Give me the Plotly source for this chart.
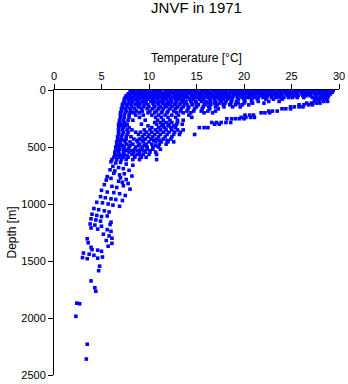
import plotly.graph_objects as go

# ---- data: temperature [°C] at depth [m] ----
# rows of near-constant depth (standard sampling depths)
t_at_3 = [8.1, 8.4, 8.9, 9.3, 9.6, 10.0, 10.5, 10.8, 11.2, 11.7, 12.0, 12.3, 12.8, 13.2, 13.5, 13.9, 14.4, 14.7,
          15.0, 15.5, 15.8, 16.2, 16.7, 17.0, 17.4, 17.8, 18.1, 18.6, 19.0, 19.3, 19.7, 20.1, 20.4, 20.9, 21.3,
          21.6, 22.0, 22.4, 22.8, 23.1, 23.6, 23.9, 24.3, 24.7, 25.0, 25.4, 25.8, 26.2, 26.5, 26.9, 27.3, 27.7,
          28.0, 28.4, 28.8, 29.1, 29.4]
t_at_18 = [8.0, 8.3, 8.7, 9.1, 9.5, 9.8, 10.2, 10.6, 11.0, 11.3, 11.8, 12.1, 12.5, 12.9, 13.3, 13.6, 14.0, 14.3,
           14.9, 15.3, 15.7, 16.0, 16.4, 16.9, 17.2, 17.6, 18.0, 18.3, 18.8, 19.2, 19.5, 19.9, 20.3, 20.7, 21.1,
           21.4, 21.8, 22.2, 22.6, 23.0, 23.3, 23.8, 24.1, 24.5, 24.9, 25.3, 25.6, 26.0, 26.4, 26.8, 27.1, 27.5,
           27.9, 28.2, 28.6, 29.0, 29.3]
t_at_34 = [7.8, 8.2, 8.6, 9.0, 9.4, 9.7, 10.1, 10.4, 10.9, 11.4, 11.7, 12.2, 12.6, 13.0, 13.4, 13.7, 14.2, 14.6,
           15.1, 15.4, 15.9, 16.3, 16.6, 17.1, 17.5, 17.9, 18.2, 18.5, 19.0, 19.4, 19.8, 20.2, 20.6, 21.0, 21.5,
           21.9, 22.3, 22.7, 23.2, 23.5, 23.9, 24.4, 24.8, 25.2, 25.5, 26.1, 26.4, 26.7, 27.0, 27.4, 27.8, 28.3,
           28.7, 29.1]
t_at_50 = [7.6, 8.0, 8.5, 8.9, 9.2, 9.6, 10.0, 10.3, 10.7, 11.1, 11.5, 11.9, 12.2, 12.7, 13.1, 13.5, 13.9, 14.5,
           14.8, 15.2, 15.6, 16.1, 16.5, 16.8, 17.3, 17.7, 18.1, 18.5, 18.9, 19.3, 19.6, 20.0, 20.5, 20.8, 21.2,
           21.7, 22.1, 22.5, 22.9, 23.3, 23.7, 24.0, 24.6, 25.0, 25.4, 25.7, 26.2, 26.6, 27.0, 27.6, 28.1, 28.5, 28.9]
t_at_66 = [7.5, 7.9, 8.3, 8.8, 9.3, 9.7, 10.1, 10.5, 10.8, 11.2, 11.6, 12.0, 12.5, 12.9, 13.3, 13.8, 14.1, 14.6,
           15.0, 15.4, 15.8, 16.2, 16.7, 17.1, 17.5, 18.0, 18.4, 18.8, 19.3, 19.8, 20.3, 20.6, 21.1, 21.5, 22.0,
           22.4, 22.9, 23.4, 23.8, 24.2, 24.7, 25.1, 25.6, 26.3, 27.2, 27.6, 28.0, 28.4, 28.8]
t_at_80 = [7.4, 7.8, 8.2, 8.6, 9.0, 9.5, 9.9, 10.4, 10.9, 11.4, 11.8, 12.3, 12.8, 13.2, 13.6, 14.3, 14.7, 15.3,
           15.7, 16.4, 16.9, 17.4, 17.8, 18.3, 18.7, 19.4, 20.0, 20.8, 21.4, 22.3, 23.1, 24.0, 27.5, 27.9, 28.3, 28.7]
t_at_100 = [7.4, 7.9, 8.3, 8.8, 9.3, 9.7, 10.2, 10.6, 11.1, 11.5, 12.0, 12.4, 12.9, 13.5, 13.9, 14.4, 14.9, 15.5,
            16.0, 16.5, 17.0, 17.6, 18.1, 18.7, 19.2, 20.1, 20.8, 21.5, 22.6, 23.7, 27.4, 27.9, 28.4, 28.8]
t_at_115 = [7.3, 7.8, 8.2, 8.7, 9.1, 9.6, 10.4, 10.9, 11.4, 11.9, 12.3, 12.8, 13.3, 13.7, 14.5, 15.0, 15.8, 16.3,
            16.9, 17.4, 18.0, 18.6, 19.4, 20.0, 20.9, 22.1, 26.6, 27.1, 27.6, 28.0]
t_at_130 = [7.2, 7.6, 8.1, 8.6, 9.0, 9.5, 9.9, 10.5, 11.0, 11.6, 12.1, 12.7, 13.2, 14.0, 14.6, 15.2, 15.9, 16.5,
            17.2, 17.8, 18.5, 19.1, 19.8, 20.5, 25.8, 26.3, 26.8, 27.2]
t_at_148 = [7.2, 7.7, 8.2, 8.9, 9.4, 10.0, 10.6, 11.2, 11.8, 12.4, 13.0, 13.6, 14.2, 15.0, 15.7, 16.3, 17.0, 17.9,
            18.8, 19.6, 24.9, 25.3, 25.8, 26.2]
t_at_165 = [7.1, 7.5, 8.0, 8.5, 9.2, 9.8, 10.4, 11.0, 11.5, 12.2, 12.8, 13.4, 14.1, 14.8, 15.6, 16.4, 17.3,
            24.0, 24.4, 24.9]
t_at_185 = [7.1, 7.6, 8.1, 8.7, 9.3, 10.1, 10.8, 11.4, 12.0, 12.6, 13.3, 14.0, 14.7, 15.5, 16.2, 17.0,
            22.6, 23.0, 23.5]
t_at_200 = [7.0, 7.5, 8.0, 8.4, 9.0, 9.9, 10.6, 11.3, 11.9, 12.9, 13.6, 14.4, 15.8, 16.7, 21.8, 22.2, 22.7]
t_at_220 = [7.0, 7.4, 7.9, 8.6, 9.4, 10.3, 11.0, 11.7, 12.4, 13.1, 14.2, 20.1, 20.6, 21.0]
t_at_240 = [7.0, 7.4, 7.9, 9.0, 10.7, 11.3, 12.0, 12.8, 14.5, 19.7, 20.2, 20.7, 21.1]
t_at_252 = [18.2, 18.7, 19.1, 19.5, 20.0]
t_at_265 = [6.9, 7.3, 7.8, 8.3, 9.6, 10.9, 11.5, 12.2, 13.0, 13.6]
t_at_285 = [6.9, 7.4, 10.6, 11.2, 11.8, 12.4, 13.0, 16.6, 17.1, 17.6, 18.1, 18.6]
t_at_300 = [6.8, 7.2, 7.7, 9.2, 10.8, 11.5, 12.1, 12.9, 13.5, 16.9, 17.4]
t_at_315 = [7.0, 7.5, 9.9, 11.3, 12.0, 12.6]
t_at_330 = [6.8, 7.3, 7.9, 10.3, 11.0, 11.6, 12.3, 12.8, 15.3, 15.8, 16.2]
t_at_350 = [6.8, 7.2, 7.7, 8.2, 9.5, 10.1, 10.7, 11.2, 11.8, 12.4, 13.0, 13.6]
t_at_370 = [6.8, 7.3, 7.8, 8.6, 9.1, 9.7, 10.3, 10.9, 11.5, 12.1, 12.7, 13.3]
t_at_390 = [6.8, 7.2, 7.7, 8.9, 9.5, 10.0, 10.6, 11.2, 11.9, 12.6, 13.2, 14.8]
t_at_410 = [6.7, 7.1, 7.6, 8.1, 9.3, 9.9, 10.4, 11.0, 11.7, 12.4]
t_at_430 = [6.7, 7.1, 7.6, 8.4, 9.0, 9.6, 10.2, 10.8, 11.5, 12.3]
t_at_442 = [6.9, 7.4, 8.7, 9.3, 10.5, 11.1, 11.9]
t_at_455 = [6.6, 7.0, 7.5, 8.0, 8.8, 9.4, 10.0, 10.7, 11.3, 12.0, 12.6]
t_at_475 = [6.6, 7.0, 7.6, 8.3, 9.0, 9.7, 10.3, 11.1, 11.8]
t_at_488 = [6.8, 7.2, 8.0, 8.9, 9.5, 10.7]
t_at_500 = [6.5, 6.9, 7.4, 7.9, 8.6, 9.3, 9.8, 10.4, 11.0]
t_at_520 = [6.5, 6.9, 7.3, 7.8, 8.5, 9.1, 9.8, 10.4, 11.2]
t_at_532 = [6.7, 7.6, 8.2, 8.8, 9.4, 10.1]
t_at_545 = [6.4, 6.8, 7.3, 7.9, 8.4, 9.0, 9.6, 10.1, 10.7]
t_at_565 = [6.4, 6.9, 7.4, 8.2, 8.8, 9.4, 10.0, 10.8]
t_at_578 = [6.6, 7.1, 7.7, 8.5, 9.1]
t_at_590 = [6.3, 6.8, 7.3, 7.8, 8.5, 9.2, 9.7]
t_at_610 = [6.1, 6.6, 7.1, 7.6, 8.3, 9.0, 10.8]

row_depths = [3, 18, 34, 50, 66, 80, 100, 115, 130, 148, 165, 185, 200, 220, 240, 252, 265, 285, 300, 315,
              330, 350, 370, 390, 410, 430, 442, 455, 475, 488, 500, 520, 532, 545, 565, 578, 590, 610]
row_temps = [t_at_3, t_at_18, t_at_34, t_at_50, t_at_66, t_at_80, t_at_100, t_at_115, t_at_130, t_at_148,
             t_at_165, t_at_185, t_at_200, t_at_220, t_at_240, t_at_252, t_at_265, t_at_285, t_at_300, t_at_315,
             t_at_330, t_at_350, t_at_370, t_at_390, t_at_410, t_at_430, t_at_442, t_at_455, t_at_475, t_at_488,
             t_at_500, t_at_520, t_at_532, t_at_545, t_at_565, t_at_578, t_at_590, t_at_610]

# scattered deeper samples
deep_temp = [6.0, 6.5, 7.0, 7.6, 8.3, 6.2, 6.8, 7.3, 5.9, 6.4, 7.9, 6.3, 6.9, 7.4, 8.2, 5.6, 6.0, 7.0, 7.6,
             5.5, 6.8, 7.2, 7.8, 5.3, 6.1, 6.6, 7.3, 8.0, 5.0, 5.6, 6.3, 6.9, 7.5, 4.9, 5.4, 6.0, 6.5, 7.2,
             4.5, 5.1, 5.7, 6.2, 6.9, 4.2, 4.7, 5.3, 5.8, 4.0, 4.5, 5.0, 5.6, 3.9, 4.4, 4.9, 6.0, 3.8, 4.3,
             5.0, 5.9, 3.9, 4.6, 5.6, 6.0, 5.2, 5.8, 6.1, 3.5, 5.5, 6.1, 3.6, 5.7, 3.9, 4.0, 4.6, 5.0, 3.1,
             3.7, 4.2, 3.0, 3.5, 4.6, 5.1, 4.8, 4.7, 3.9, 4.3, 4.4, 2.4, 2.7, 2.3, 3.5, 3.4]
deep_depth = [630, 640, 635, 650, 660, 670, 680, 690, 700, 710, 705, 730, 745, 735, 755, 760, 775, 770, 785,
              790, 800, 810, 820, 830, 845, 855, 840, 870, 880, 895, 900, 910, 925, 935, 945, 955, 960, 970,
              985, 990, 1000, 1010, 1020, 1040, 1050, 1060, 1070, 1090, 1100, 1110, 1105, 1130, 1140, 1150,
              1160, 1175, 1185, 1195, 1180, 1210, 1220, 1225, 1240, 1265, 1280, 1300, 1305, 1320, 1345, 1340,
              1370, 1380, 1400, 1405, 1415, 1430, 1440, 1450, 1470, 1480, 1475, 1465, 1545, 1585, 1675, 1735,
              1765, 1870, 1875, 1985, 2230, 2360]

x_ticks = [0, 5, 10, 15, 20, 25, 30]
y_ticks = [0, 500, 1000, 1500, 2000, 2500]

# ---- assemble ----
temps, depths = [], []
for d, row in zip(row_depths, row_temps):
    temps.extend(row)
    depths.extend([d] * len(row))
temps.extend(deep_temp)
depths.extend(deep_depth)

font = "Liberation Sans, Arial, sans-serif"
fig = go.Figure(go.Scatter(
    x=temps, y=depths, mode="markers",
    marker=dict(symbol="square", size=3.6, color="#0000ff", line=dict(width=0)),
    hoverinfo="skip", showlegend=False))

fig.update_layout(
    width=348, height=384,
    margin=dict(l=54, r=9, t=90, b=9, autoexpand=False),
    paper_bgcolor="white", plot_bgcolor="white",
    font=dict(family=font, size=11, color="black"),
    title=dict(text="JNVF in 1971", x=0.5, xref="paper", xanchor="center",
               y=1 - 8 / 384, yref="container", yanchor="middle", automargin=False,
               font=dict(family=font, size=15, color="black")),
)
fig.update_xaxes(
    side="top", range=[0, 30], tickvals=x_ticks, ticks="outside", ticklen=5, tickwidth=1,
    tickcolor="black", showline=True, linecolor="black", linewidth=1, showgrid=False, zeroline=False,
    automargin=False,
    tickfont=dict(size=11), title=dict(text="Temperature [°C]", font=dict(size=12), standoff=4))
fig.update_yaxes(
    range=[2500, 0], tickvals=y_ticks, ticks="outside", ticklen=5, tickwidth=1,
    tickcolor="black", showline=True, linecolor="black", linewidth=1, showgrid=False, zeroline=False,
    automargin=False,
    tickfont=dict(size=11), title=dict(text="Depth [m]", font=dict(size=12), standoff=2))

fig.write_html("out.html", config={"displayModeBar": False},
               post_script="document.body.style.margin='0';")
